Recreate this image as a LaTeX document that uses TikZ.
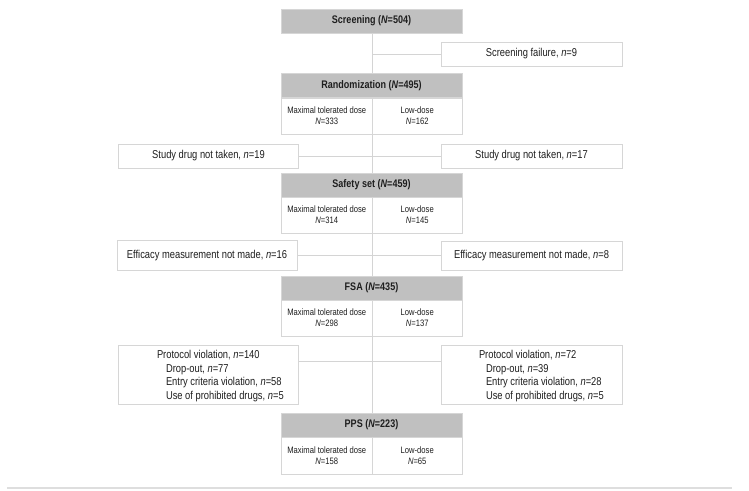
\documentclass[tikz,border=0pt]{standalone}
\usepackage{fontspec}
\setmainfont{Liberation Sans}[FakeStretch=0.82]
\usetikzlibrary{backgrounds}
\definecolor{hdrc}{RGB}{192,192,192}
\definecolor{bordc}{RGB}{214,214,214}
\definecolor{connc}{RGB}{212,212,212}
\definecolor{txtc}{RGB}{30,30,30}
\definecolor{rulec}{RGB}{222,222,222}
\begin{document}
\begin{tikzpicture}[x=1pt,y=-1pt,
  every node/.style={inner sep=0pt, outer sep=0pt, text=txtc},
  hdr/.style={draw=bordc, fill=hdrc, line width=0.8pt, minimum width=181pt, minimum height=24pt,
    font=\bfseries\fontsize{11}{12}\selectfont},
  subbox/.style={draw=bordc, fill=white, line width=0.8pt, minimum width=90.5pt, minimum height=36pt,
    align=center, font=\fontsize{9.3}{11}\selectfont},
  sidebox/.style={draw=bordc, fill=white, line width=0.8pt, minimum width=180pt,
    align=center, font=\fontsize{11.4}{13.3}\selectfont},
  pvtext/.style={anchor=west, align=left, font=\fontsize{11.4}{13.4}\selectfont},
  conn/.style={draw=connc, line width=0.8pt}]
\useasboundingbox (0,0) rectangle (749,490);
% Screening
\node[hdr] (scr) at (371.5,21) {Screening (\textit{N}=504)};
\node[sidebox, minimum width=181pt, minimum height=24pt] (fail) at (531.5,54) {Screening failure, \textit{n}=9};
% Randomization
\node[hdr] (rand) at (371.5,85.5) {Randomization (\textit{N}=495)};
\node[subbox] (randL) at (326.75,116) {Maximal tolerated dose\\\textit{N}=333};
\node[subbox] (randR) at (417.25,116) {Low-dose\\\textit{N}=162};
% Study drug not taken
\node[sidebox, minimum height=24pt] (sdL) at (208.5,156) {Study drug not taken, \textit{n}=19};
\node[sidebox, minimum width=181pt, minimum height=24pt] (sdR) at (531.5,156) {Study drug not taken, \textit{n}=17};
% Safety set
\node[hdr] (safe) at (371.5,185) {Safety set (\textit{N}=459)};
\node[subbox] (safeL) at (326.75,215) {Maximal tolerated dose\\\textit{N}=314};
\node[subbox] (safeR) at (417.25,215) {Low-dose\\\textit{N}=145};
% Efficacy
\node[sidebox, minimum height=30pt] (efL) at (207,255.5) {Efficacy measurement not made, \textit{n}=16};
\node[sidebox, minimum width=181pt, minimum height=29pt] (efR) at (531.5,255.5) {Efficacy measurement not made, \textit{n}=8};
% FSA
\node[hdr] (fsa) at (371.5,288) {FSA (\textit{N}=435)};
\node[subbox] (fsaL) at (326.75,318) {Maximal tolerated dose\\\textit{N}=298};
\node[subbox] (fsaR) at (417.25,318) {Low-dose\\\textit{N}=137};
% Protocol violations
\node[sidebox, minimum height=59pt] (pvL) at (208,374.5) {};
\node[sidebox, minimum width=181pt, minimum height=59pt] (pvR) at (531.5,374.5) {};
\node[pvtext] (pvLt) at (157,376) {Protocol violation, \textit{n}=140\\
  \hspace*{9pt}Drop-out, \textit{n}=77\\
  \hspace*{9pt}Entry criteria violation, \textit{n}=58\\
  \hspace*{9pt}Use of prohibited drugs, \textit{n}=5};
\node[pvtext] (pvRt) at (479,376) {Protocol violation, \textit{n}=72\\
  \hspace*{7pt}Drop-out, \textit{n}=39\\
  \hspace*{7pt}Entry criteria violation, \textit{n}=28\\
  \hspace*{7pt}Use of prohibited drugs, \textit{n}=5};
% PPS
\node[hdr] (pps) at (371.5,425) {PPS (\textit{N}=223)};
\node[subbox, minimum height=37pt] (ppsL) at (326.75,455.5) {Maximal tolerated dose\\\textit{N}=158};
\node[subbox, minimum height=37pt] (ppsR) at (417.25,455.5) {Low-dose\\\textit{N}=65};
% connectors
\begin{pgfonlayer}{background}
\draw[conn] (scr.south -| randL.east) -- (pps.north -| randL.east);
\draw[conn] (fail.west) -- (fail.west -| randL.east);
\draw[conn] (sdL.east) -- (sdR.west);
\draw[conn] (efL.east) -- (efR.west);
\draw[conn] ([yshift=-16pt]pvL.north east) -- ([yshift=-16pt]pvR.north west);
\end{pgfonlayer}
% bottom rule
\coordinate (rl) at (7,488);
\coordinate (rr) at (732,488);
\draw[draw=rulec, line width=2pt] (rl) -- (rr);
\end{tikzpicture}
\end{document}
